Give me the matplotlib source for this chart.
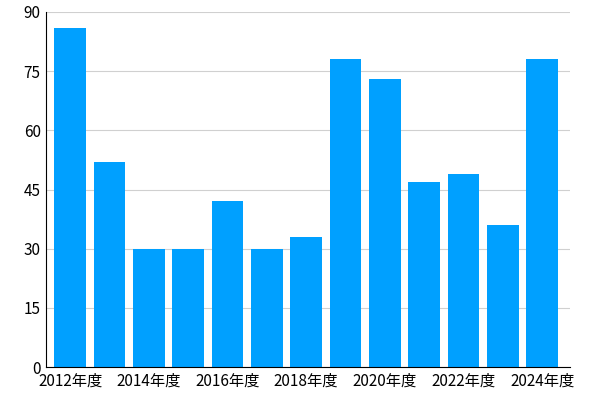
import matplotlib
matplotlib.use('Agg')
import matplotlib.pyplot as plt

plt.rcParams['font.family'] = ['Noto Sans CJK JP', 'DejaVu Sans']

years = ['2012年度', '2013年度', '2014年度', '2015年度', '2016年度', '2017年度', '2018年度',
         '2019年度', '2020年度', '2021年度', '2022年度', '2023年度', '2024年度']
values = [86, 52, 30, 30, 42, 30, 33, 78, 73, 47, 49, 36, 78]

fig = plt.figure(figsize=(6, 4), dpi=100)
ax = fig.add_axes([0.077, 0.0825, 0.873, 0.8875])

x = list(range(len(years)))
ax.bar(x, values, width=0.81, color='#00A0FF', zorder=2)

ax.set_ylim(0, 90)
ax.set_yticks(range(0, 91, 15))
ax.set_xlim(-0.61, 12.71)
ax.set_xticks(x[::2])
ax.set_xticklabels(years[::2])
ax.grid(axis='y', color='#d0d0d0', linewidth=0.8, zorder=0)
ax.tick_params(length=0, labelsize=11, pad=4)
for s in ['top', 'right']:
    ax.spines[s].set_visible(False)
ax.spines['left'].set_color('black')
ax.spines['bottom'].set_color('black')

fig.savefig('out.png', dpi=100)
